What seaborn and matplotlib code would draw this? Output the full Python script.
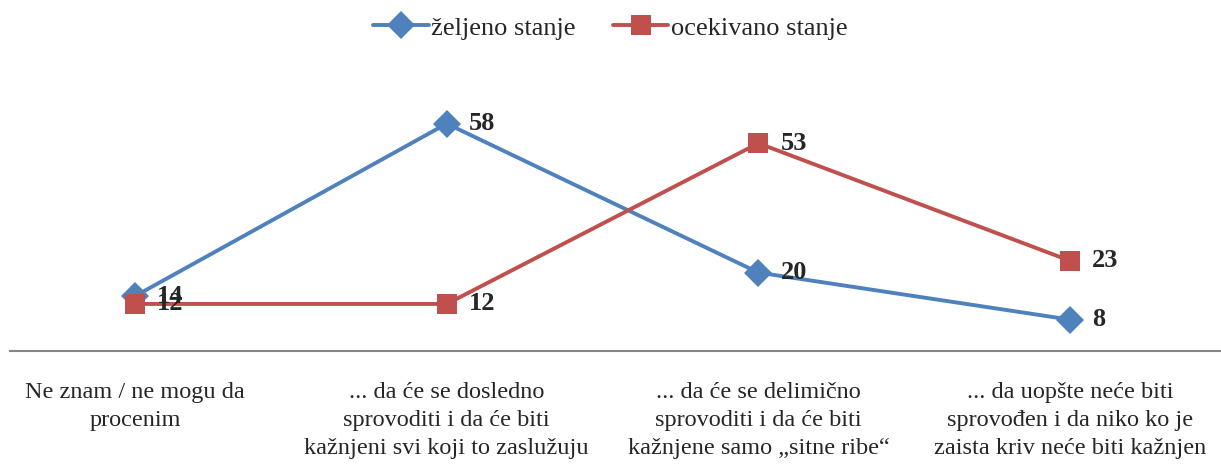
import pandas as pd
import matplotlib.pyplot as plt
import seaborn as sns

categories = [
    'Ne znam / ne mogu da\nprocenim',
    '... da će se dosledno\nsprovoditi i da će biti\nkažnjeni svi koji to zaslužuju',
    '... da će se delimično\nsprovoditi i da će biti\nkažnjene samo „sitne ribe“',
    '... da uopšte neće biti\nsprovođen i da niko ko je\nzaista kriv neće biti kažnjen',
]
series_names = ['željeno stanje', 'ocekivano stanje']
zeljeno = [14, 58, 20, 8]
ocekivano = [12, 12, 53, 23]

colors = {'željeno stanje': '#4F81BD', 'ocekivano stanje': '#C0504D'}
markers = {'željeno stanje': 'D', 'ocekivano stanje': 's'}

df = pd.DataFrame({
    'pos': list(range(len(categories))) * 2,
    'value': zeljeno + ocekivano,
    'series': [series_names[0]] * 4 + [series_names[1]] * 4,
})

sns.set_style('white')
plt.rcParams['font.family'] = ['Liberation Serif', 'DejaVu Serif']

fig = plt.figure(figsize=(12.21, 4.66), dpi=100)
ax = fig.add_axes([0.0082, 0.2468, 0.9918, 0.5888])

sns.lineplot(data=df, x='pos', y='value', hue='series', style='series',
             markers=markers, dashes=False, palette=colors, linewidth=2.8,
             markersize=14, markeredgewidth=0, ax=ax)

# data labels (14 and 12 overlap at the first point, as in the original)
for s, vals in zip(series_names, [zeljeno, ocekivano]):
    for i, v in enumerate(vals):
        ax.annotate(str(v), (i, v), xytext=(16, 0), textcoords='offset points',
                    ha='left', va='center', fontsize=19, fontweight='bold')

ax.set_xlim(-0.401, 3.484)
ax.set_ylim(0, 70)
ax.set_xticks(range(len(categories)))
ax.set_xticklabels(categories, fontsize=17.5, linespacing=1.45)
ax.tick_params(axis='x', length=0, pad=22)
ax.set_yticks([])
ax.set_xlabel('')
ax.set_ylabel('')
for sp in ['top', 'left', 'right']:
    ax.spines[sp].set_visible(False)
ax.spines['bottom'].set_color('#868686')
ax.spines['bottom'].set_linewidth(1.5)

handles, labels = ax.get_legend_handles_labels()
ax.legend(handles, labels, loc='center', bbox_to_anchor=(0.5, 0.94),
          bbox_transform=fig.transFigure, ncol=2, frameon=False,
          fontsize=19, handlelength=2.1, columnspacing=1.4, handletextpad=0.1)

fig.savefig('out.png', dpi=100)
